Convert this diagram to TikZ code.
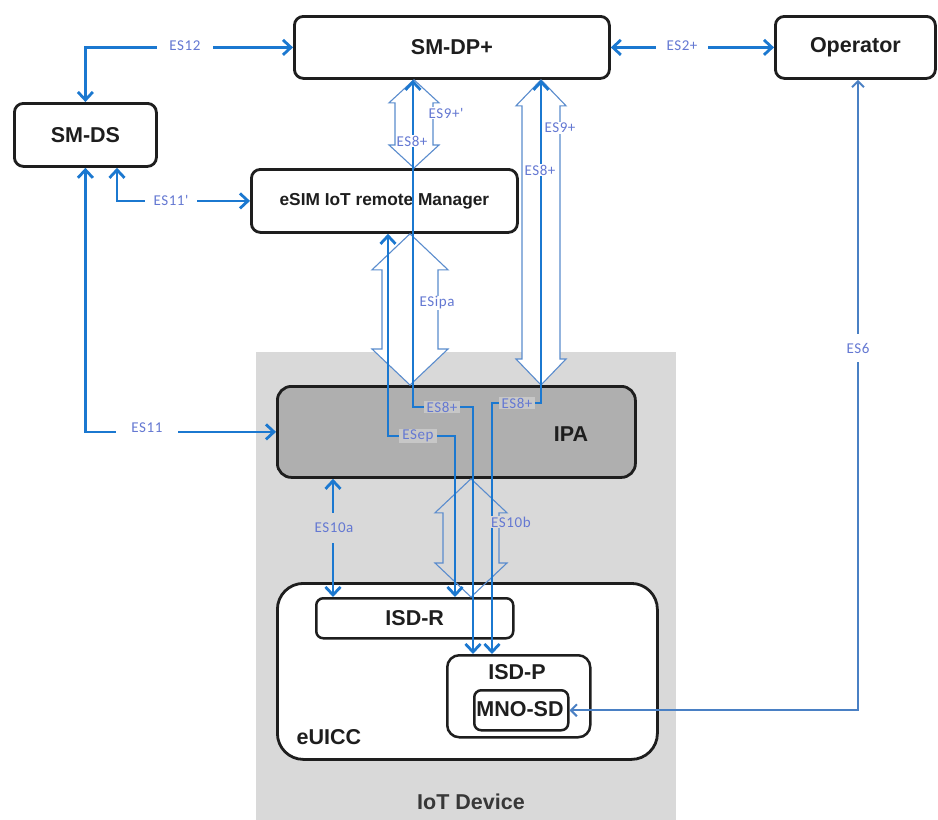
\documentclass[tikz,border=0pt]{standalone}
\usepackage{fontspec}
\setmainfont{Liberation Sans}
\newfontfamily\lblfont{Carlito}[LetterSpace=4]
\usetikzlibrary{arrows.meta,calc}

\definecolor{cblue}{RGB}{27,120,208}
\definecolor{es6blue}{RGB}{74,128,196}
\definecolor{hollowblue}{RGB}{90,140,205}
\definecolor{lblcol}{RGB}{100,120,210}
\definecolor{devgray}{RGB}{217,217,217}
\definecolor{ipagray}{RGB}{175,175,175}
\definecolor{inkblack}{RGB}{30,30,30}

% hollow double-headed block arrow between two coordinates (top, bottom)
% #1 style, #2 top tip, #3 bottom tip, #4 shaft half width, #5 head half width, #6 head length
\newcommand\blockarrow[6]{%
  \draw[#1] (#2) -- ($(#2)+(#5,#6)$) -- ($(#2)+(#4,#6)$) -- ($(#3)+(#4,-#6)$)
    -- ($(#3)+(#5,-#6)$) -- (#3) -- ($(#3)+(-#5,-#6)$) -- ($(#3)+(-#4,-#6)$)
    -- ($(#2)+(-#4,#6)$) -- ($(#2)+(-#5,#6)$) -- cycle;}

\tikzset{
  box/.style={draw=inkblack, line width=2.8pt, rounded corners=9pt, fill=white,
    inner sep=0pt, anchor=north west, text=inkblack,
    font=\bfseries\fontsize{21.5}{25}\selectfont},
  ttl/.style={text=inkblack, inner sep=0pt, font=\bfseries\fontsize{21.5}{25}\selectfont},
  conn/.style={draw=cblue, line width=2.8pt},
  es6line/.style={draw=es6blue, line width=2pt},
  hollow/.style={draw=hollowblue, line width=1.1pt, line join=miter},
  lbl/.style={font=\lblfont\fontsize{15}{18}\selectfont, text=lblcol, inner sep=1pt},
  >={Straight Barb[length=8pt,width=15pt]},
}

\begin{document}
\begin{tikzpicture}[x=1pt,y=-1pt]
\useasboundingbox (0,0) rectangle (938,820);
\fill[white] (0,0) rectangle (938,820);

% IoT device area
\fill[devgray] (256,352) rectangle (676,820);

% boxes
\node[box, minimum width=315, minimum height=62] (smdp) at (293,15) {SM-DP+};
\node[box, minimum width=160, minimum height=62] (oper) at (774,15) {Operator};
\node[box, minimum width=142, minimum height=63] (smds) at (13,102) {SM-DS};
\node[box, minimum width=266, minimum height=63,
      font=\bfseries\fontsize{17.3}{21}\selectfont] (esim) at (250,168) {eSIM IoT remote Manager};
\node[box, minimum width=358, minimum height=91, fill=ipagray, rounded corners=14pt] (ipa) at (276,385) {};
\node[box, minimum width=380, minimum height=176, rounded corners=26pt] (euicc) at (276,582) {};
\node[box, line width=2.5pt, rounded corners=7pt, minimum width=197, minimum height=40] (isdr) at (315,597) {ISD-R};
\node[box, line width=2.5pt, rounded corners=12pt, minimum width=143, minimum height=82] (isdp) at (446,654) {};
\node[box, line width=2.5pt, rounded corners=7pt, minimum width=94, minimum height=40] (mnosd) at (473,689) {};

\node[ttl] (ipatxt) at (571,434) {IPA};
\node[ttl] (euicctxt) at (329,737) {eUICC};
\node[ttl] (isdptxt) at (517,672) {ISD-P};
\node[ttl] (mnosdtxt) at (520,709) {MNO-SD};
\node[ttl, text=black!78] (devtxt) at (471,802) {IoT Device};

% x positions of the vertical connectors
\coordinate (x117) at (117,0);
\coordinate (x333) at (333,0);
\coordinate (x410) at (410,0);
\coordinate (x414) at (414,0);
\coordinate (x471) at (471,0);
\coordinate (x541) at (541,0);
\coordinate (x858) at (858,0);

% hollow interface arrows
\blockarrow{hollow, fill=white}{smdp.south -| x414}{esim.north -| x414}{19}{25}{23}
\blockarrow{hollow, fill=white}{smdp.south -| x541}{ipa.north -| x541}{19}{25}{26}
\blockarrow{hollow, fill=white}{esim.south -| x410}{ipa.north -| x410}{28}{38}{36}
\blockarrow{hollow}{ipa.south -| x471}{isdr.north -| x471}{28}{36}{34}

% bend points inside the IPA
\coordinate (ep1) at (388,436);
\coordinate (ep2) at (455,436);
\coordinate (a1) at (413,407);
\coordinate (a2) at (473,407);
\coordinate (b1) at (541,403);
\coordinate (b2) at (492,403);

% interface lines
\draw[conn,<->] (smdp.west) -| (smds.north);
\draw[conn,<->] (smdp.east) -- (oper.west);
\draw[conn,<->] (esim.west) -| (x117 |- smds.south);
\draw[conn,<->] (ipa.west) -| (smds.south);
\draw[conn,<->] (ipa.south -| x333) -- (isdr.north -| x333);
\draw[conn,<->] (esim.south -| ep1) -- (ep1) -- (ep2) -- (isdr.north -| ep2);
\draw[conn,<->] (smdp.south -| a1) -- (a1) -- (a2) -- (isdp.north -| a2);
\draw[conn,<->] (smdp.south -| b1) -- (b1) -- (b2) -- (isdp.north -| b2);
\draw[es6line,<->,>={Straight Barb[length=6pt,width=12pt]}] (mnosd.east) -| (oper.south -| x858);

% interface names
\node[lbl, fill=white, inner xsep=12pt] (l12) at (185,46) {ES12};
\node[lbl, fill=white, inner xsep=11pt] (l2) at (682,46) {ES2+};
\node[lbl, fill=white, inner xsep=9pt] (l11p) at (171,200) {ES11'};
\node[lbl, fill=white, inner xsep=15pt] (l11) at (147,428) {ES11};
\node[lbl, fill=white, inner ysep=9pt] (l6) at (858,348) {ES6};
\node[lbl, fill=devgray, inner ysep=10pt] (l10a) at (334,528) {ES10a};
\node[lbl, fill=white] (l9p) at (446,113) {ES9+'};
\node[lbl, fill=white] (l8a) at (412,141) {ES8+};
\node[lbl, fill=white] (l9) at (560,128) {ES9+};
\node[lbl, fill=white] (l8b) at (540,170) {ES8+};
\node[lbl, fill=white] (lipa) at (437,303) {ESipa};
\node[lbl, fill=ipagray!70!white, inner xsep=3pt] (lep) at (418,436) {ESep};
\node[lbl, fill=ipagray!70!white, inner xsep=3pt] (l8c) at (442,407) {ES8+};
\node[lbl, fill=ipagray!70!white, inner xsep=3pt] (l8d) at (517,403) {ES8+};
\node[lbl, fill=devgray] (l10b) at (511,522) {ES10b};
\end{tikzpicture}
\end{document}
